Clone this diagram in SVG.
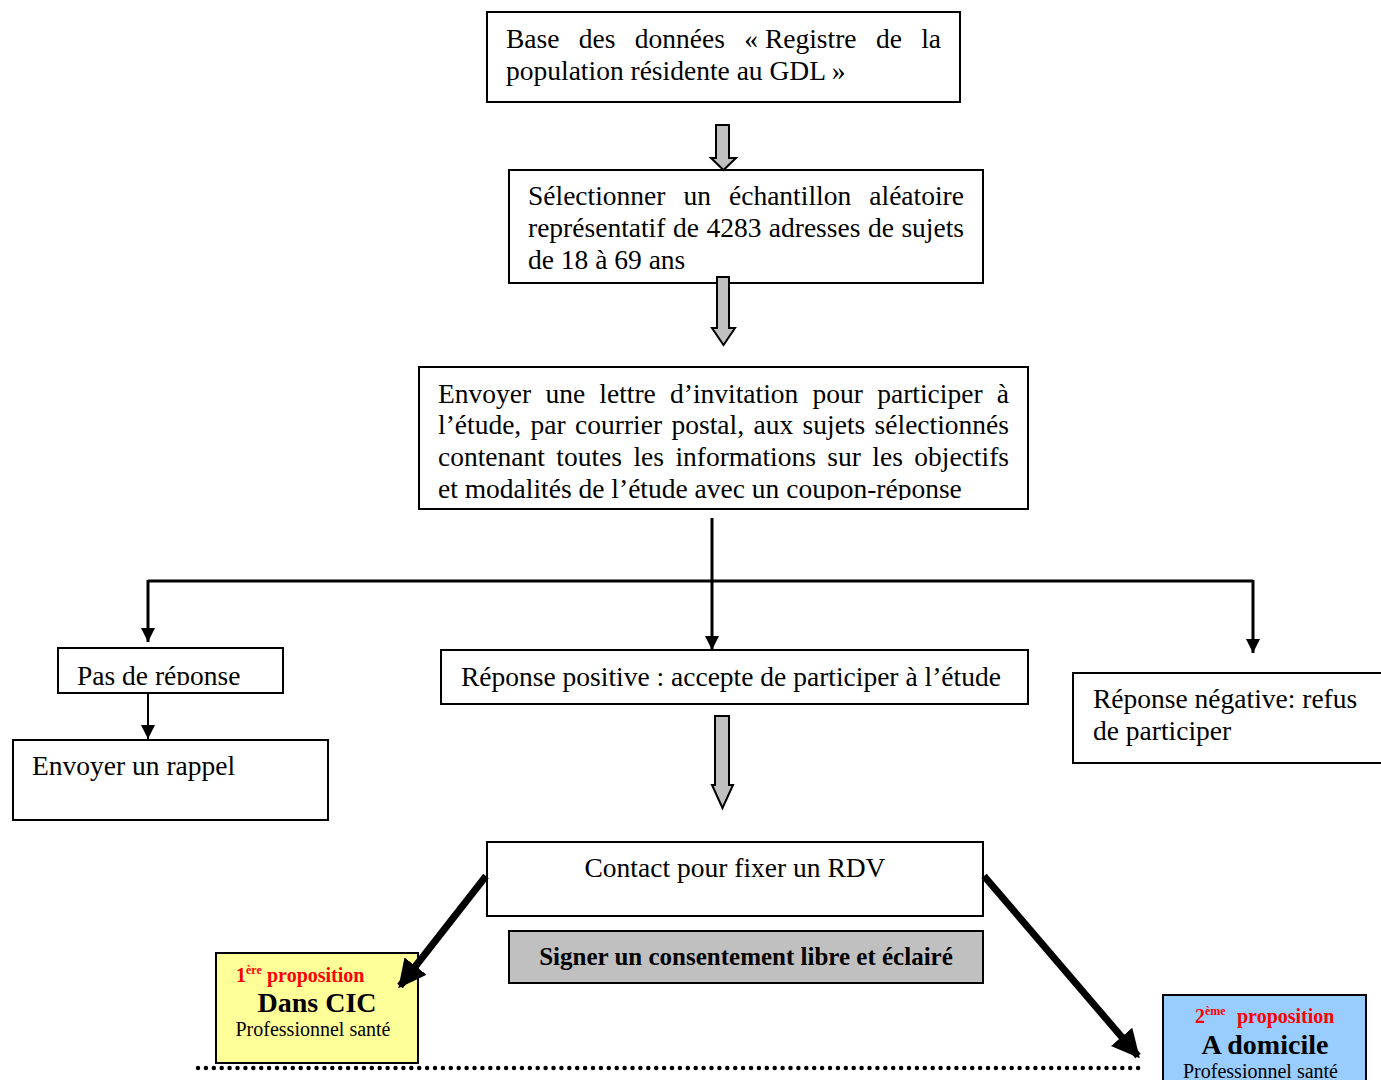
<svg xmlns="http://www.w3.org/2000/svg" width="1381" height="1080" viewBox="0 0 1381 1080">
<style>
.box{fill:#fff;stroke:#000;stroke-width:2}
.t{font-family:"Liberation Serif","Times New Roman",serif;font-size:27.5px;fill:#000}
.s{font-family:"Liberation Serif","Times New Roman",serif;fill:#000}
.blk{fill:#c0c0c0;stroke:#000;stroke-width:2;stroke-linejoin:miter}
.ln{stroke:#000;stroke-width:3;fill:none}
.thin{stroke:#000;stroke-width:2;fill:none}
.thick{stroke:#000;stroke-width:7;fill:none}
.red{fill:#ff0000;font-weight:bold}
</style>
<defs>
<marker id="ah" viewBox="0 0 10 10" refX="10" refY="5" markerWidth="14" markerHeight="14" markerUnits="userSpaceOnUse" orient="auto"><path d="M0,0 L10,5 L0,10 z" fill="#000"/></marker>
<marker id="ahbig" viewBox="0 0 10 10" refX="9" refY="5" markerWidth="28" markerHeight="28" markerUnits="userSpaceOnUse" orient="auto"><path d="M0,0 L10,5 L0,10 z" fill="#000"/></marker>
<clipPath id="c3"><rect x="419" y="367" width="609" height="133"/></clipPath>
<clipPath id="c4"><rect x="58" y="648" width="225" height="37"/></clipPath>
</defs>

<g id="n1">
<rect class="box" x="487" y="12" width="473" height="90"/>
<text class="t" y="48"><tspan x="506">Base</tspan><tspan x="578.8">des</tspan><tspan x="634.8">données</tspan><tspan x="744.3">« Registre</tspan><tspan x="875.9">de</tspan><tspan x="921.2">la</tspan></text>
<text class="t" x="506" y="80">population résidente au GDL »</text>
</g>

<g id="n2">
<rect class="box" x="509" y="170" width="474" height="113"/>
<text class="t" y="205"><tspan x="528">Sélectionner</tspan><tspan x="683.5">un</tspan><tspan x="729">échantillon</tspan><tspan x="869.3">aléatoire</tspan></text>
<text class="t" y="237"><tspan x="528">représentatif</tspan><tspan x="672.9">de</tspan><tspan x="706.4">4283</tspan><tspan x="768.8">adresses</tspan><tspan x="867.9">de</tspan><tspan x="901.4">sujets</tspan></text>
<text class="t" x="528" y="269">de 18 à 69 ans</text>
</g>

<g id="n3">
<rect class="box" x="419" y="367" width="609" height="142"/>
<g clip-path="url(#c3)">
<text class="t" y="403"><tspan x="438">Envoyer</tspan><tspan x="545.4">une</tspan><tspan x="599.3">lettre</tspan><tspan x="670">d’invitation</tspan><tspan x="812.6">pour</tspan><tspan x="877.2">participer</tspan><tspan x="996.8">à</tspan></text>
<text class="t" y="434"><tspan x="438">l’étude,</tspan><tspan x="530.6">par</tspan><tspan x="575.1">courrier</tspan><tspan x="671.5">postal,</tspan><tspan x="753.5">aux</tspan><tspan x="802.6">sujets</tspan><tspan x="874.6">sélectionnés</tspan></text>
<text class="t" y="466"><tspan x="438">contenant</tspan><tspan x="556.3">toutes</tspan><tspan x="633.4">les</tspan><tspan x="675.4">informations</tspan><tspan x="827.3">sur</tspan><tspan x="872.3">les</tspan><tspan x="914.3">objectifs</tspan></text>
<text class="t" x="438" y="498">et modalités de l’étude avec un coupon-réponse</text>
</g>
</g>

<g id="n4">
<rect class="box" x="58" y="648" width="225" height="45"/>
<g clip-path="url(#c4)"><text class="t" x="77" y="685">Pas de réponse</text></g>
</g>

<g id="n5">
<rect class="box" x="13" y="740" width="315" height="80"/>
<text class="t" x="32" y="775">Envoyer un rappel</text>
</g>

<g id="n6">
<rect class="box" x="441" y="650" width="587" height="54"/>
<text class="t" x="461" y="686">Réponse positive : accepte de participer à l’étude</text>
</g>

<g id="n7">
<rect class="box" x="1073" y="673" width="320" height="90"/>
<text class="t" x="1093" y="708">Réponse négative: refus</text>
<text class="t" x="1093" y="740">de participer</text>
</g>

<g id="n8">
<rect class="box" x="487" y="842" width="496" height="74"/>
<text class="t" x="735" y="877" text-anchor="middle">Contact pour fixer un RDV</text>
</g>

<g id="n9">
<rect x="509" y="931" width="474" height="52" fill="#c0c0c0" stroke="#000" stroke-width="2"/>
<text class="s" x="746" y="965" text-anchor="middle" font-weight="bold" font-size="25">Signer un consentement libre et éclairé</text>
</g>

<g id="n10">
<rect x="216" y="953" width="202" height="110" fill="#ffff99" stroke="#000" stroke-width="2"/>
<text class="s red" x="236" y="982" font-size="20">1<tspan font-size="12" dy="-8">ère</tspan><tspan x="267" dy="8">proposition</tspan></text>
<text class="s" x="317" y="1012" text-anchor="middle" font-size="28" font-weight="bold">Dans CIC</text>
<text class="s" x="313" y="1036" text-anchor="middle" font-size="20">Professionnel santé</text>
</g>

<g id="n11">
<rect x="1163" y="995" width="203" height="95" fill="#99ccff" stroke="#000" stroke-width="2"/>
<text class="s red" x="1195" y="1023" font-size="20">2<tspan font-size="12" dy="-8">ème</tspan><tspan x="1237" dy="8">proposition</tspan></text>
<text class="s" x="1265" y="1054" text-anchor="middle" font-size="28" font-weight="bold">A domicile</text>
<text class="s" x="1260.5" y="1078" text-anchor="middle" font-size="20">Professionnel santé</text>
</g>

<g id="connectors">
<path class="blk" d="M716,125 H729 V158 H736 L723.5,170 L711,158 H716 Z"/>
<path class="blk" d="M717,277 H729 V328 H735 L723.5,345 L712,328 H717 Z"/>
<path class="blk" d="M715,716 H729 V785 H733 L722.5,808 L712,785 H715 Z"/>
<path class="ln" d="M712,518 V650" marker-end="url(#ah)"/>
<path class="ln" d="M148,581 H1253"/>
<path class="ln" d="M148,580 V642" marker-end="url(#ah)"/>
<path class="ln" d="M1253,580 V653" marker-end="url(#ah)"/>
<path class="thin" d="M148,693 V739" marker-end="url(#ah)"/>
<path class="thick" d="M486,876 L400,986" marker-end="url(#ahbig)"/>
<path class="thick" d="M984,876 L1138,1056" marker-end="url(#ahbig)"/>
<line x1="198" y1="1068" x2="1140" y2="1068" stroke="#000" stroke-width="4.5" stroke-linecap="round" stroke-dasharray="0 7.9"/>
</g>
</svg>
